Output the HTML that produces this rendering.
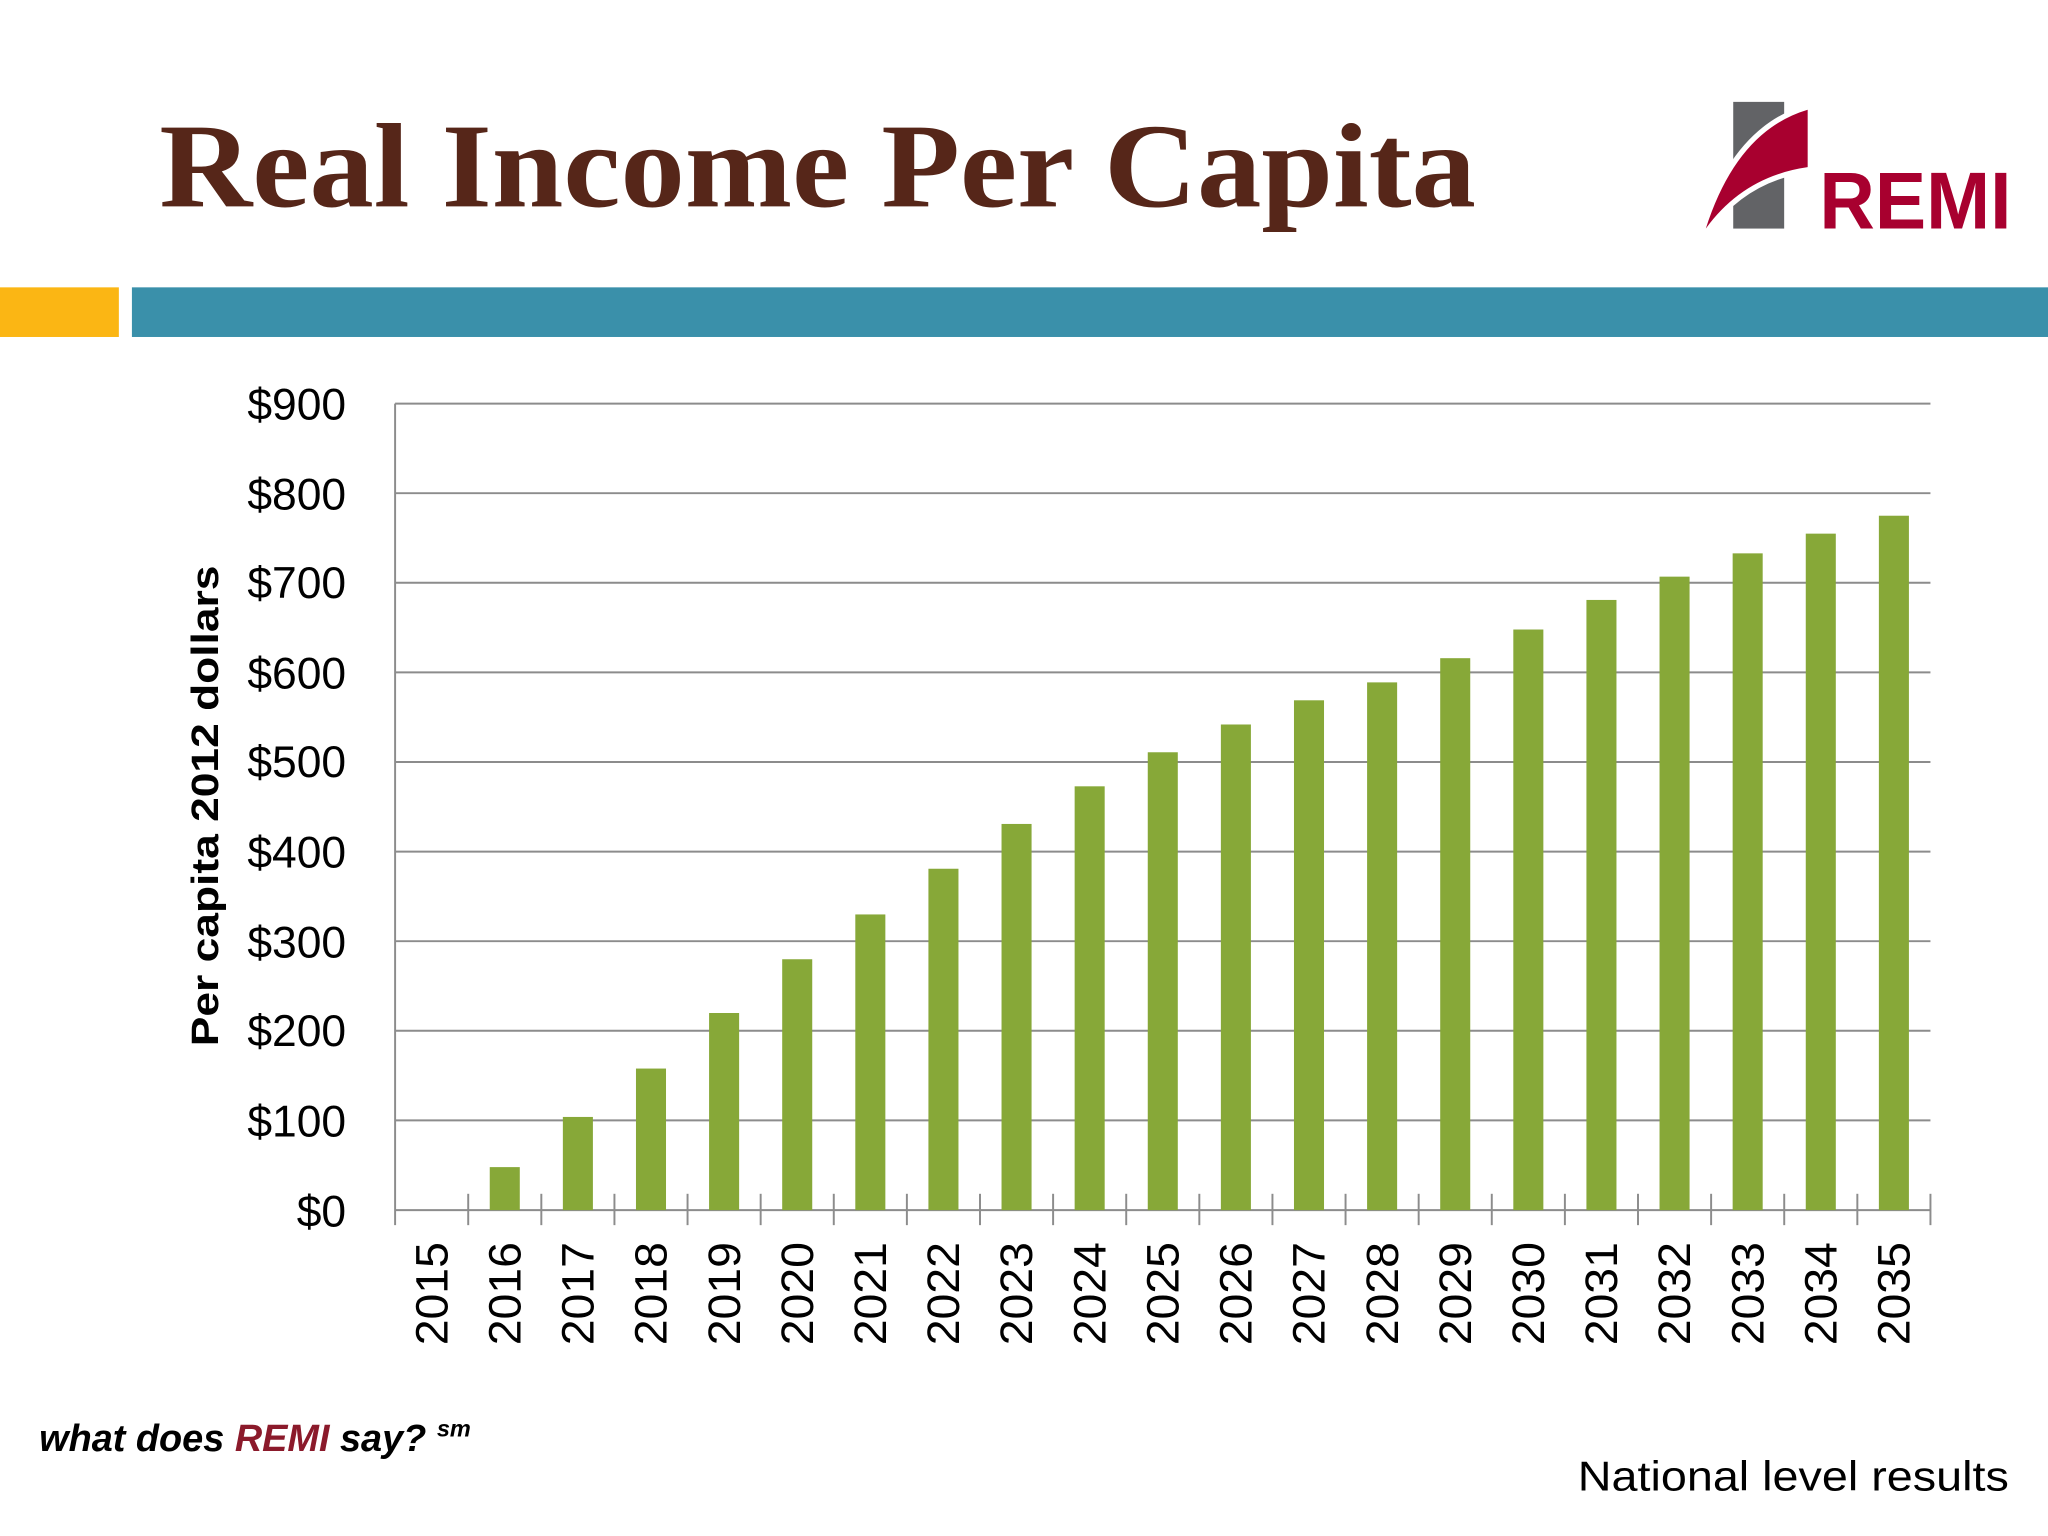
<!DOCTYPE html>
<html><head><meta charset="utf-8"><style>html,body{margin:0;padding:0;background:#fff}svg{display:block}</style></head><body>
<svg width="2048" height="1536" viewBox="0 0 1568 1176" xmlns="http://www.w3.org/2000/svg">
<rect width="1568" height="1176" fill="#fff"/>
<text x="122" y="158" font-family="Liberation Serif, serif" font-weight="bold" font-size="92" fill="#562619" textLength="1008" lengthAdjust="spacingAndGlyphs">Real Income Per Capita</text>
<rect x="1327" y="78" width="39" height="97" fill="#626366"/>
<path d="M1306,175 Q1330,100 1384,84 L1384,128 Q1335,135 1306,175 Z" fill="#fff" stroke="#fff" stroke-width="8"/>
<path d="M1306,175 Q1330,100 1384,84 L1384,128 Q1335,135 1306,175 Z" fill="#a8002f"/>
<text x="1393" y="175" font-family="Liberation Sans, sans-serif" font-weight="bold" font-size="62" fill="#a8002f" textLength="147" lengthAdjust="spacingAndGlyphs">REMI</text>
<rect x="0" y="220" width="91" height="38" fill="#fbb614"/>
<rect x="101" y="220" width="1467" height="38" fill="#3a90aa"/>
<g stroke="#8c8c8c" stroke-width="1.5">
<line x1="302.5" y1="309" x2="1478" y2="309"/><line x1="302.5" y1="377.6" x2="1478" y2="377.6"/><line x1="302.5" y1="446.2" x2="1478" y2="446.2"/><line x1="302.5" y1="514.8" x2="1478" y2="514.8"/><line x1="302.5" y1="583.4" x2="1478" y2="583.4"/><line x1="302.5" y1="652" x2="1478" y2="652"/><line x1="302.5" y1="720.6" x2="1478" y2="720.6"/><line x1="302.5" y1="789.2" x2="1478" y2="789.2"/><line x1="302.5" y1="857.8" x2="1478" y2="857.8"/>
<line x1="302.5" y1="309" x2="302.5" y2="938"/><line x1="302.5" y1="926.5" x2="1478" y2="926.5"/>
</g>
<g id="bars" fill="#87a838"></g>
<g id="ticks" stroke="#8c8c8c" stroke-width="1.5"></g>
<g font-family="Liberation Sans, sans-serif" font-size="34" fill="#000" text-anchor="end">
<text x="265" y="321">$900</text><text x="265" y="390">$800</text><text x="265" y="458">$700</text><text x="265" y="527">$600</text><text x="265" y="595">$500</text><text x="265" y="664">$400</text><text x="265" y="733">$300</text><text x="265" y="801">$200</text><text x="265" y="870">$100</text><text x="265" y="939">$0</text>
</g>
<g id="years" font-family="Liberation Sans, sans-serif" font-size="35" fill="#000" text-anchor="end"></g>
<text transform="translate(167,617) rotate(-90)" font-family="Liberation Sans, sans-serif" font-weight="bold" font-size="29" text-anchor="middle" textLength="368" lengthAdjust="spacingAndGlyphs">Per capita 2012 dollars</text>
<text x="30" y="1111" font-family="Liberation Sans, sans-serif" font-weight="bold" font-style="italic" font-size="29">what does <tspan fill="#8b1a2b">REMI</tspan> say? <tspan font-size="18" dy="-11">sm</tspan></text>
<text x="1538" y="1141" font-family="Liberation Sans, sans-serif" font-size="32" text-anchor="end" textLength="330" lengthAdjust="spacingAndGlyphs">National level results</text>
<script>
var v=[0,48,104,158,220,280,330,381,431,473,511,542,569,589,616,648,681,707,733,755,775];
var ns="http://www.w3.org/2000/svg",b=document.getElementById("bars"),t=document.getElementById("ticks"),y=document.getElementById("years");
var w=(1478-302.5)/21;
for(var i=0;i<21;i++){var c=302.5+(i+0.5)*w;
if(v[i]>0){var r=document.createElementNS(ns,"rect");var h=v[i]*0.686;r.setAttribute("x",c-11.5);r.setAttribute("y",926.5-h);r.setAttribute("width",23);r.setAttribute("height",h);b.appendChild(r);}
var l=document.createElementNS(ns,"line");var x=302.5+(i+1)*w;l.setAttribute("x1",x);l.setAttribute("x2",x);l.setAttribute("y1",914);l.setAttribute("y2",938);t.appendChild(l);
var tx=document.createElementNS(ns,"text");tx.setAttribute("transform","translate("+(c+12)+",951) rotate(-90)");tx.setAttribute("textLength","79");tx.setAttribute("lengthAdjust","spacingAndGlyphs");tx.textContent=2015+i;y.appendChild(tx);}
</script>
</svg>
</body></html>
